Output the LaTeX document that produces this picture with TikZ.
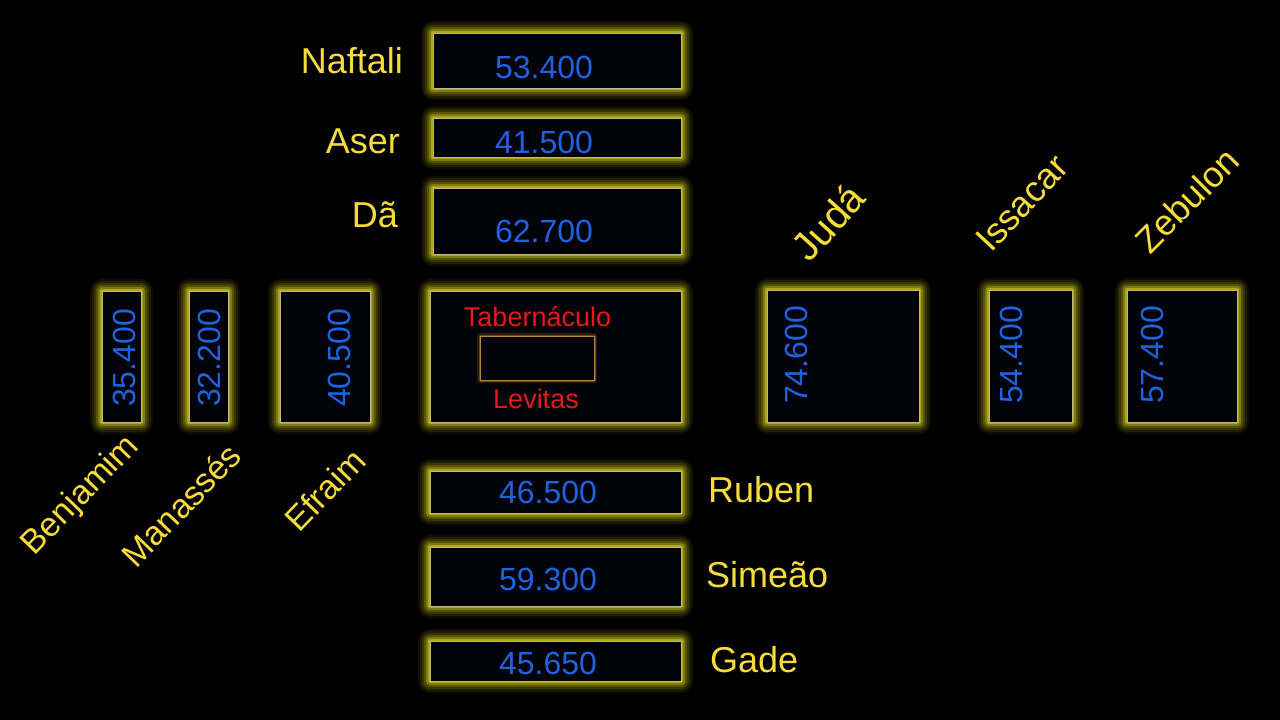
\documentclass[tikz,border=0pt]{standalone}
\usepackage{fontspec}
\setmainfont{Liberation Sans}

\definecolor{fundo}{HTML}{000000}
\definecolor{preenche}{HTML}{03030B}
\definecolor{brilho}{HTML}{D6CC1A}
\definecolor{borda}{HTML}{BDB88C}
\definecolor{tribo}{HTML}{F6DC3A}
\definecolor{numero}{HTML}{1F62DE}
\definecolor{tenda}{HTML}{E41A1A}
\definecolor{ouro}{HTML}{B8843A}

\tikzset{
  caixa/.style={fill=preenche, draw=borda, line width=1pt, inner sep=0pt,
    preaction={draw=brilho, line join=round, line width=24pt, opacity=0.07},
    preaction={draw=brilho, line join=round, line width=20pt, opacity=0.09},
    preaction={draw=brilho, line join=round, line width=16pt, opacity=0.13},
    preaction={draw=brilho, line join=round, line width=12pt, opacity=0.2},
    preaction={draw=brilho, line join=round, line width=8pt, opacity=0.32},
    preaction={draw=brilho, line join=round, line width=4pt, opacity=0.55}},
  santo/.style={fill=preenche, draw=ouro, line width=1pt, inner sep=0pt,
    preaction={draw=ouro, line join=round, line width=6pt, opacity=0.2},
    preaction={draw=ouro, line join=round, line width=3pt, opacity=0.4}},
  nome/.style={text=tribo, font=\fontsize{36}{40}\selectfont, inner sep=0pt},
  numero/.style={text=numero, font=\fontsize{32}{36}\selectfont, inner sep=0pt},
  levita/.style={text=tenda, font=\fontsize{27}{30}\selectfont, inner sep=0pt}
}

\begin{document}
\begin{tikzpicture}[x=1pt,y=-1pt]
        % Fundo
        \fill[fundo] (0,0) rectangle (1280,720);
        \useasboundingbox (0,0) rectangle (1280,720);

        % Norte
        \node[caixa, minimum width=248pt, minimum height=55pt] (naftali) at (557,60.5) {};
        \node[caixa, minimum width=248pt, minimum height=39pt] (aser) at (557,137.5) {};
        \node[caixa, minimum width=248pt, minimum height=66pt] (da) at (557,221) {};
        \node[numero, anchor=base] (naftalin) at (544,78) {53.400};
        \node[numero, anchor=base] (asern) at (544,153) {41.500};
        \node[numero, anchor=base] (dan) at (544,242) {62.700};
        \node[nome, anchor=base east] (naftalit) at (403,73) {Naftali};
        \node[nome, anchor=base east] (asert) at (400,153) {Aser};
        \node[nome, anchor=base east] (dat) at (398,227) {Dã};

        % Tabernáculo
        \node[caixa, minimum width=251pt, minimum height=131pt] (tabernaculo) at (555.5,356.5) {};
        \node[santo, minimum width=114pt, minimum height=44pt] (santuario) at (537,358) {};
        \node[levita, anchor=base] (tabernaculot) at (537.5,326) {Tabernáculo};
        \node[levita, anchor=base] (levitas) at (536,408) {Levitas};

        % Sul
        \node[caixa, minimum width=251pt, minimum height=42pt] (ruben) at (555.5,492) {};
        \node[caixa, minimum width=251pt, minimum height=59pt] (simeao) at (555.5,576.5) {};
        \node[caixa, minimum width=251pt, minimum height=40pt] (gade) at (555.5,661) {};
        \node[numero, anchor=base] (rubenn) at (548,503) {46.500};
        \node[numero, anchor=base] (simeaon) at (548,590) {59.300};
        \node[numero, anchor=base] (gaden) at (548,674) {45.650};
        \node[nome, anchor=base west] (rubent) at (708,502) {Ruben};
        \node[nome, anchor=base west] (simeaot) at (706,587) {Simeão};
        \node[nome, anchor=base west] (gadet) at (710,672) {Gade};

        % Oeste
        \node[caixa, minimum width=39pt, minimum height=131pt] (benjamim) at (121.5,356.5) {};
        \node[caixa, minimum width=39pt, minimum height=131pt] (manasses) at (208.5,356.5) {};
        \node[caixa, minimum width=90pt, minimum height=131pt] (efraim) at (325,356.5) {};
        \node[numero, rotate=90] (benjamimn) at (124,358) {35.400};
        \node[numero, rotate=90] (manassesn) at (209.5,358) {32.200};
        \node[numero, rotate=90] (efraimn) at (339.5,358) {40.500};
        \node[nome, rotate=46, font=\fontsize{34}{38}\selectfont] (benjamimt) at (81,496) {Benjamim};
        \node[nome, rotate=46, font=\fontsize{34}{38}\selectfont] (manassest) at (181,505) {Manassés};
        \node[nome, rotate=46, font=\fontsize{34}{38}\selectfont] (efraimt) at (325,490) {Efraim};

        % Leste
        \node[caixa, minimum width=152pt, minimum height=132pt] (juda) at (843,356) {};
        \node[caixa, minimum width=83pt, minimum height=132pt] (issacar) at (1030.5,356) {};
        \node[caixa, minimum width=110pt, minimum height=132pt] (zebulon) at (1182,356) {};
        \node[numero, rotate=90] (judan) at (796,355) {74.600};
        \node[numero, rotate=90] (issacarn) at (1011,355) {54.400};
        \node[numero, rotate=90] (zebulonn) at (1152.5,355) {57.400};
        \node[nome, rotate=48, font=\fontsize{40}{44}\selectfont] (judat) at (828,222) {Judá};
        \node[nome, rotate=47] (issacart) at (1022,203) {Issacar};
        \node[nome, rotate=45] (zebulont) at (1187,200) {Zebulon};
    \end{tikzpicture}
\end{document}
